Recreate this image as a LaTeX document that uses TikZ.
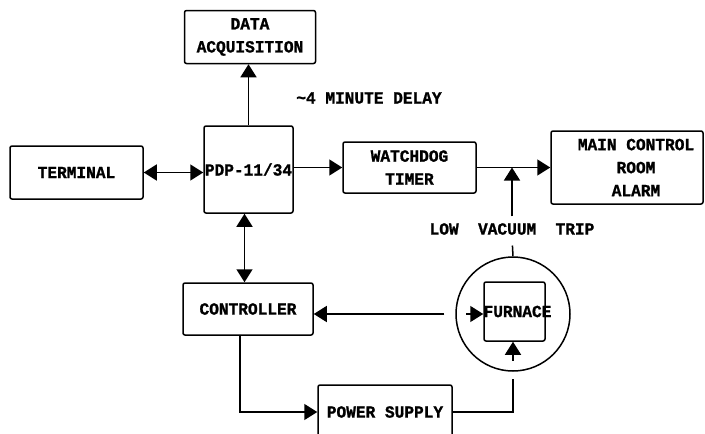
\documentclass[tikz,border=0pt]{standalone}
\usepackage{fontspec}
\setmonofont[FakeStretch=0.95, BoldFeatures={FakeBold=1.2}]{Liberation Mono}
\usetikzlibrary{arrows.meta}

\tikzset{
  unit/.style={draw, rounded corners=2pt, align=center, inner sep=0pt},
}

\begin{document}
\begin{tikzpicture}[x=1pt, y=-1pt, line width=1.5pt,
    >={Triangle[length=13pt,width=16pt]},
    font=\ttfamily\bfseries\fontsize{17}{23}\selectfont]
  \useasboundingbox (0,0) rectangle (705,434);
  \clip (0,0) rectangle (705,434);

  % Computer and its neighbours
  \node[unit, minimum width=131, minimum height=53] (acq) at (250,37) {DATA\\ACQUISITION};
  \node[unit, minimum width=89, minimum height=87] (pdp) at (248.5,169.5) {PDP-11/34};
  \node[unit, minimum width=133, minimum height=53] (term) at (76.5,172.5) {TERMINAL};
  \node[unit, minimum width=133, minimum height=51] (wd) at (409.5,167.5) {WATCHDOG\\TIMER};
  \node[unit, minimum width=152, minimum height=73,
    label={[align=center, xshift=9pt]center:{MAIN CONTROL\\ROOM\\ALARM}}] (alarm) at (627,167.5) {};
  \node (delay) at (369,98) {\textasciitilde4 MINUTE DELAY};

  % Furnace loop
  \node[unit, minimum width=130, minimum height=52] (ctrl) at (248,309) {CONTROLLER};
  \node[unit, minimum width=134, minimum height=54] (psu) at (385,412) {POWER SUPPLY};
  \node[draw, circle, minimum size=114, inner sep=0pt] (vessel) at (513,314) {};
  \node[unit, minimum width=61, minimum height=59,
    label={[xshift=3pt]center:FURNACE}] (furn) at (514.5,311.5) {};
  \node[inner sep=2pt] (trip) at (512,229) {LOW\ \ VACUUM\ \ TRIP};
  \coordinate (tap) at (512,167.5);

  % Connections
  \draw[->] (pdp.north) -- (pdp.north |- acq.south);
  \draw[<->] (term.east) -- (term.east -| pdp.west);
  \draw[->] (pdp.east |- wd.west) -- (wd.west);
  \draw[->] (wd.east) -- (alarm.west);
  \draw[->, shorten <=4pt] (trip.north) -- (tap);
  \draw[shorten >=8pt] (vessel.north) -- (trip.south);
  \draw[<->] ([xshift=-4pt]pdp.south) -- ([xshift=-4pt]pdp.south |- ctrl.north);
  \draw[->, shorten <=11pt] (vessel.west) -- (vessel.west -| ctrl.east);
  \draw[->] ([xshift=-8pt]ctrl.south) |- (psu.west);
  \draw (psu.east) -| ([yshift=-7pt]vessel.south);
  \draw[->] ([yshift=11pt]vessel.south) -- (vessel.south |- furn.south);
  \draw[->] ([xshift=11pt]vessel.west) -- (vessel.west -| furn.west);
\end{tikzpicture}
\end{document}
